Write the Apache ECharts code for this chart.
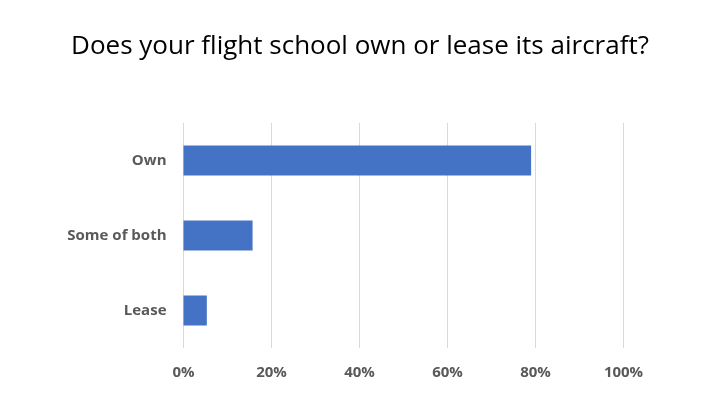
<!DOCTYPE html>
<html>
<head>
<meta charset="utf-8">
<script src="https://cdn.jsdelivr.net/npm/echarts@6/dist/echarts.min.js"></script>
<style>
html,body{margin:0;padding:0;background:#fff;}
#chart{width:720px;height:405px;}
</style>
</head>
<body>
<div id="chart"></div>
<script>
var titleText = 'Does your flight school own or lease its aircraft?';
var categories = ['Lease', 'Some of both', 'Own'];
var shares = [5.3, 15.7, 79.0];
var tickLabels = ['0%', '20%', '40%', '60%', '80%', '100%'];

var myChart = echarts.init(document.getElementById('chart'));
myChart.setOption({
	animation: false,
	title: {
		text: titleText,
		left: 'center',
		top: 29,
		textStyle: {
			fontFamily: 'Open Sans',
			fontSize: 26,
			fontWeight: 'normal',
			color: '#000'
		}
	},
	grid: {
		left: 183.5,
		right: 96.5,
		top: 123,
		bottom: 57
	},
	xAxis: {
		type: 'value',
		min: 0,
		max: 100,
		interval: 20,
		axisLine: {show: false},
		axisTick: {show: false},
		splitLine: {lineStyle: {color: '#d9d9d9', width: 1}},
		axisLabel: {
			margin: 17,
			fontFamily: 'Open Sans',
			fontSize: 15,
			fontWeight: 'bold',
			color: '#595959',
			formatter: function (v) {
				return tickLabels[Math.round(v / 20)];
			}
		}
	},
	yAxis: {
		type: 'category',
		data: categories,
		axisLine: {show: false},
		axisTick: {show: false},
		axisLabel: {
			margin: 17,
			fontFamily: 'Open Sans',
			fontSize: 15,
			fontWeight: 'bold',
			color: '#595959'
		}
	},
	series: [{
		type: 'bar',
		data: shares,
		barWidth: 30,
		itemStyle: {color: '#4472C4'}
	}]
});
</script>
</body>
</html>
